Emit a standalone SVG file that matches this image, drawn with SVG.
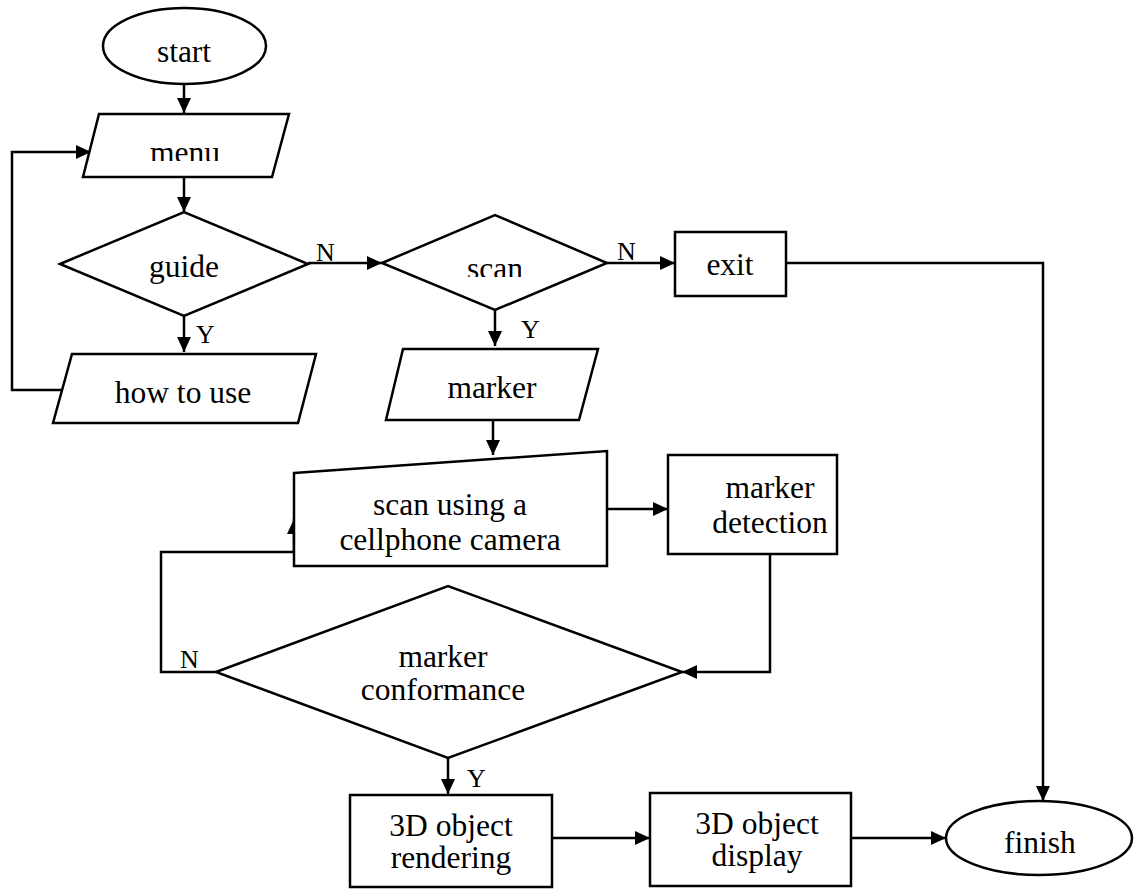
<svg xmlns="http://www.w3.org/2000/svg" width="1134" height="889" viewBox="0 0 1134 889">
<style>
.s{fill:#fff;stroke:#000;stroke-width:2.5;stroke-linejoin:miter}
.c{fill:none;stroke:#000;stroke-width:2.5}
.t{font-family:"Liberation Serif","Times New Roman",serif;font-size:31.5px;fill:#000;text-anchor:middle}
.l{font-family:"Liberation Serif","Times New Roman",serif;font-size:26px;fill:#000}
</style>
<defs>
<marker id="a" viewBox="0 0 15 14" refX="15" refY="7" markerWidth="15" markerHeight="14" markerUnits="userSpaceOnUse" orient="auto">
<path d="M0,0 L15,7 L0,14 z" fill="#000"/>
</marker>
<clipPath id="cm"><rect x="0" y="0" width="1134" height="161"/></clipPath>
<clipPath id="cs"><rect x="0" y="200" width="1134" height="77"/></clipPath>
</defs>
<g id="connectors">
<path class="c" d="M184,84 V113" marker-end="url(#a)"/>
<path class="c" d="M184,177 V212" marker-end="url(#a)"/>
<path class="c" d="M308,263 H382" marker-end="url(#a)"/>
<path class="c" d="M607,263 H675" marker-end="url(#a)"/>
<path class="c" d="M184,316 V352" marker-end="url(#a)"/>
<path class="c" d="M62,390 H12 V152 H91" marker-end="url(#a)"/>
<path class="c" d="M495,310 V346" marker-end="url(#a)"/>
<path class="c" d="M493,420 V455" marker-end="url(#a)"/>
<path class="c" d="M607,509 H668" marker-end="url(#a)"/>
<path class="c" d="M770,554 V672 H682" marker-end="url(#a)"/>
<path class="c" d="M216,672 H161 V552 H294 V519" marker-end="url(#a)"/>
<path class="c" d="M448,758 V794" marker-end="url(#a)"/>
<path class="c" d="M552,838 H650" marker-end="url(#a)"/>
<path class="c" d="M851,838 H946" marker-end="url(#a)"/>
<path class="c" d="M786,263 H1043 V801" marker-end="url(#a)"/>
</g>
<g id="start">
<ellipse class="s" cx="184.5" cy="46" rx="81.5" ry="38"/>
<text class="t" x="184" y="62">start</text>
</g>
<g id="menu">
<polygon class="s" points="99,114 289,114 272,177 83,177"/>
<text class="t" x="185" y="163" clip-path="url(#cm)">menu</text>
</g>
<g id="guide">
<polygon class="s" points="60,264 184,212 308,264 184,316"/>
<text class="t" x="184" y="277">guide</text>
</g>
<g id="howto">
<polygon class="s" points="72,354 316,354 298,423 53,423"/>
<text class="t" x="183" y="403">how to use</text>
</g>
<g id="scan">
<polygon class="s" points="382,263 495,215 607,263 495,310"/>
<text class="t" x="495" y="279" clip-path="url(#cs)">scan</text>
</g>
<g id="exit">
<rect class="s" x="675" y="232" width="111" height="64"/>
<text class="t" x="730" y="275">exit</text>
</g>
<g id="marker">
<polygon class="s" points="403,349 598,349 579,420 386,420"/>
<text class="t" x="492" y="398">marker</text>
</g>
<g id="scanusing">
<polygon class="s" points="294,473 607,451 607,566 294,566"/>
<text class="t" x="450" y="515">scan using a</text>
<text class="t" x="450" y="550">cellphone camera</text>
</g>
<g id="detection">
<rect class="s" x="668" y="455" width="169" height="99"/>
<text class="t" x="770" y="498">marker</text>
<text class="t" x="770" y="533">detection</text>
</g>
<g id="conformance">
<polygon class="s" points="216,672 448,586 682,672 448,758"/>
<text class="t" x="443" y="667">marker</text>
<text class="t" x="443" y="700">conformance</text>
</g>
<g id="rendering">
<rect class="s" x="350" y="795" width="202" height="92"/>
<text class="t" x="451" y="836">3D object</text>
<text class="t" x="451" y="868">rendering</text>
</g>
<g id="display">
<rect class="s" x="650" y="793" width="201" height="93"/>
<text class="t" x="757" y="834">3D object</text>
<text class="t" x="757" y="866">display</text>
</g>
<g id="finish">
<ellipse class="s" cx="1039" cy="838" rx="93" ry="37"/>
<text class="t" x="1040" y="853">finish</text>
</g>
<g id="labels">
<text class="l" x="316" y="261">N</text>
<text class="l" x="617" y="260">N</text>
<text class="l" x="196" y="343">Y</text>
<text class="l" x="521" y="338">Y</text>
<text class="l" x="180" y="668">N</text>
<text class="l" x="467" y="787">Y</text>
</g>
</svg>
